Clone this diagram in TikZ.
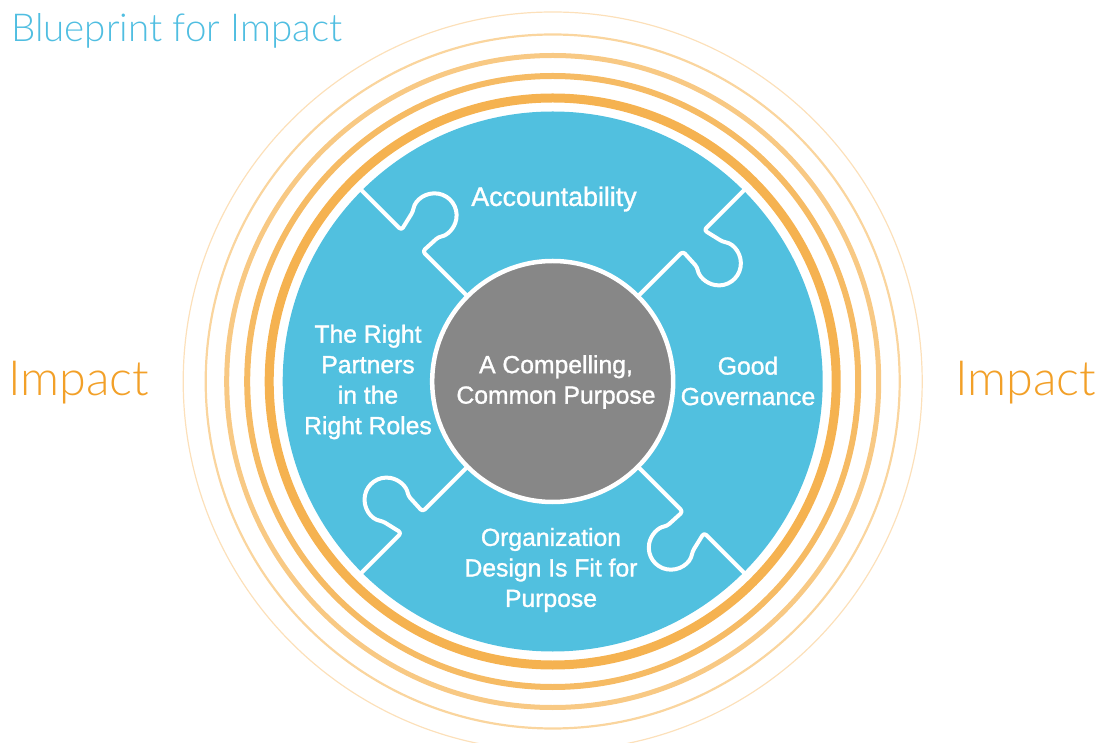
\documentclass[tikz,border=0pt]{standalone}
\usepackage{fontspec}
\setmainfont{Liberation Sans}
\newfontfamily\labelfont[FakeBold=1.2]{Liberation Sans}
\newfontfamily\lightfont{Lato Light}
\definecolor{pblue}{RGB}{81,192,223}
\definecolor{pgray}{RGB}{135,135,135}
\definecolor{impactc}{RGB}{242,160,40}
\definecolor{titlec}{RGB}{80,190,225}
\definecolor{ringA}{RGB}{245,178,80}
\definecolor{ringB}{RGB}{246,187,100}
\definecolor{ringC}{RGB}{248,201,132}
\definecolor{ringD}{RGB}{250,213,158}
\definecolor{ringE}{RGB}{252,224,186}
\tikzset{
  puzzle/.style={draw=white, line width=4pt, rounded corners=3pt, line join=round},
  lbl/.style={text=white, font=\labelfont\fontsize{24.7}{30.5}\selectfont, align=center, inner sep=0pt},
  impactlbl/.style={text=impactc, font=\lightfont\fontsize{48.5}{50}\selectfont, inner sep=0pt, anchor=base west},
}
\begin{document}
\begin{tikzpicture}[x=1pt,y=1pt]
\useasboundingbox (0,0) rectangle (1105,742);
\coordinate (C) at (552.7,360.5);
% rings
\draw[ringE, line width=1.2pt] (C) circle[radius=369.5];
\draw[ringD, line width=2.2pt] (C) circle[radius=347];
\draw[ringC, line width=5pt] (C) circle[radius=326];
\draw[ringB, line width=6pt] (C) circle[radius=305.5];
\draw[ringA, line width=9pt] (C) circle[radius=283.5];
% blue disk
\node[circle, fill=pblue, minimum size=540pt, inner sep=0pt, outer sep=0pt] (disk) at (C) {};
% puzzle seams
\foreach \a in {135,45,-45,-135} {
  \draw[puzzle, shift={(C)}, rotate=\a] (272,0) -- (214,0) -- (219.02,-21.38)
    arc[start angle=35, end angle=-215, radius=22] -- (184,0) -- (119,0);
}
% core
\node[circle, fill=pgray, draw=white, line width=4.5pt, minimum size=241pt, inner sep=0pt] (core) at (C) {};
% labels
\node[lbl, font=\labelfont\fontsize{26.8}{30.5}\selectfont] (acc) at (554,742-199) {Accountability};
\node[lbl] (partners) at (368,742-382) {The Right\\Partners\\in the\\Right Roles};
\node[lbl] (purpose) at (556,742-382) {A Compelling,\\Common Purpose};
\node[lbl] (gov) at (748,742-381) {Good\\Governance};
\node[lbl] (org) at (551,742-570) {Organization\\Design Is Fit for\\Purpose};
\node[impactlbl] (impL) at (8,346) {Impact};
\node[impactlbl] (impR) at (955,346) {Impact};
\node[text=titlec, font=\lightfont\fontsize{38.5}{42}\selectfont, inner sep=0pt, anchor=base west] (title) at (11,700) {Blueprint for Impact};
\end{tikzpicture}
\end{document}
